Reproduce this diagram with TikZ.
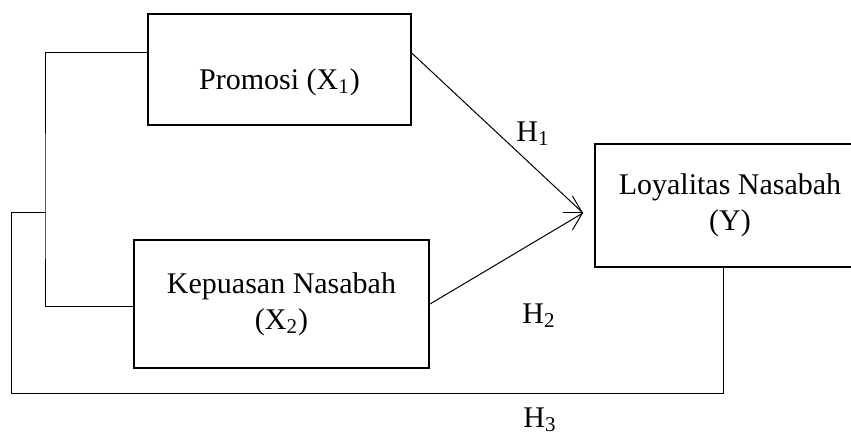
\documentclass[tikz,border=0pt]{standalone}
\usepackage{fontspec}
\setmainfont{Liberation Serif}
\usetikzlibrary{arrows.meta}
\tikzset{
  varbox/.style={draw,line width=0.7pt,inner sep=0pt,align=center,font=\fontsize{15}{18}\selectfont},
  hlabel/.style={inner sep=0pt,font=\fontsize{15}{18}\selectfont}
}

\begin{document}
\begin{tikzpicture}[x=0.5pt,y=-0.5pt,line width=0.5pt]
      \useasboundingbox (0,0) rectangle (851,438);
      \node [varbox,minimum width=131.5pt,minimum height=55.5pt,text height=24pt,text depth=4pt] (1) at (279.5,69.5) {Promosi (X\textsubscript{1})};
      \node [varbox,line width=1pt,minimum width=147.5pt,minimum height=64pt] (2) at (281.5,304) {Kepuasan Nasabah\\(X\textsubscript{2})};
      \node [varbox,minimum width=135pt,minimum height=61.5pt] (3) at (730,205.5) {Loyalitas Nasabah\\(Y)};

      \coordinate (tip) at (583,213);
      \coordinate (j) at (45,213);
      \coordinate (k) at (11,213);
      \coordinate (m) at (723,393);

      \draw ([yshift=8.25pt]1.east) -- (tip);
      \draw (2.east) -- (tip);
      \draw [-{Straight Barb[length=5pt,width=17pt]}] ([xshift=-10pt]tip) -- (tip);

      \draw ([yshift=8.25pt]1.west) -| (j) |- ([yshift=-1pt]2.west);
      \draw (j) -- (k) |- (m) -- ([xshift=-3.5pt]3.south);

      \node [hlabel] (h1) at (533,134) {H\textsubscript{1}};
      \node [hlabel] (h2) at (539,316) {H\textsubscript{2}};
      \node [hlabel] (h3) at (540,420) {H\textsubscript{3}};
    \end{tikzpicture}
\end{document}
